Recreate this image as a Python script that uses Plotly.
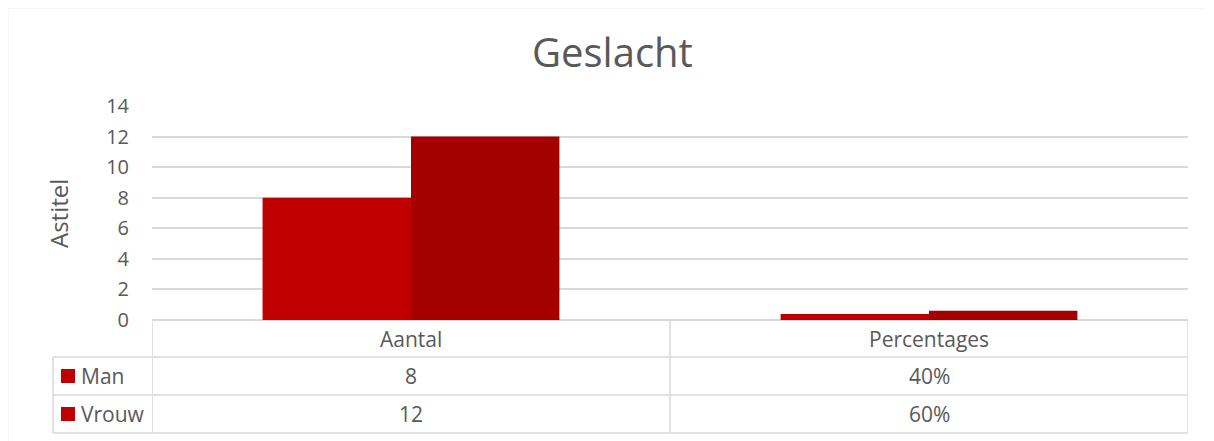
import plotly.graph_objects as go

categories = ["Aantal", "Percentages"]
series_names = ["Man", "Vrouw"]
man_values = [8, 0.4]
vrouw_values = [12, 0.6]
man_labels = ["8", "40%"]
vrouw_labels = ["12", "60%"]
y_ticks = [0, 2, 4, 6, 8, 10, 12, 14]
title_text = "Geslacht"
y_title = "Astitel"

W, H = 1214, 441
OFF = 8  # default page body margin
FONT = "Open Sans"
TXT = "#595959"
GRID = "#D9D9D9"
colors = ["#C00000", "#A50000"]
key_colors = ["#C00000", "#C00000"]

def py(px):
    return 1 - (px - OFF) / H

def pxx(px):
    return (px - OFF) / W

x_idx = list(range(len(categories)))

fig = go.Figure()
for name, vals, col in zip(series_names, [man_values, vrouw_values], colors):
    fig.add_trace(go.Bar(x=x_idx, y=vals, name=name, marker=dict(color=col, line=dict(width=0)),
                         showlegend=False, hoverinfo="skip"))

shapes = []
line = dict(color=GRID, width=1.5)
# chart border
shapes.append(dict(type="rect", xref="paper", yref="paper", x0=pxx(7.5), x1=pxx(W + 30),
                    y0=py(H + 30), y1=py(7.5), line=dict(color=GRID, width=1.5), fillcolor="rgba(0,0,0,0)"))
# table horizontal lines
row_tops = [357, 395, 433]
for ry in row_tops:
    shapes.append(dict(type="line", xref="paper", yref="paper", x0=pxx(53), x1=pxx(1188),
                       y0=py(ry), y1=py(ry), line=line))
# vertical lines at category boundaries
bounds = [i - 0.5 for i in x_idx] + [x_idx[-1] + 0.5]
for b in bounds:
    shapes.append(dict(type="line", xref="x", yref="paper", x0=b, x1=b,
                       y0=py(320), y1=py(433), line=line))
# legend column left edge
shapes.append(dict(type="line", xref="paper", yref="paper", x0=pxx(53), x1=pxx(53),
                   y0=py(357), y1=py(433), line=line))

annotations = []
TFS = 21
for i, c in zip(x_idx, categories):
    annotations.append(dict(x=i, y=py(338.5), xref="x", yref="paper", text=c, showarrow=False,
                            font=dict(family=FONT, size=TFS, color=TXT), xanchor="center", yanchor="middle"))
row_centers = [376, 414]
for rc, name, labels, kc in zip(row_centers, series_names, [man_labels, vrouw_labels], key_colors):
    for i, lab in zip(x_idx, labels):
        annotations.append(dict(x=i, y=py(rc), xref="x", yref="paper", text=lab, showarrow=False,
                                font=dict(family=FONT, size=TFS, color=TXT), xanchor="center", yanchor="middle"))
    annotations.append(dict(x=pxx(79), y=py(rc), xref="paper", yref="paper", text=name, showarrow=False,
                            font=dict(family=FONT, size=TFS, color=TXT), xanchor="left", yanchor="middle"))
    shapes.append(dict(type="rect", xref="paper", yref="paper", x0=pxx(61), x1=pxx(75),
                       y0=py(rc + 7), y1=py(rc - 7), line=dict(width=0), fillcolor=kc))

annotations.append(dict(x=pxx(612), y=py(52), xref="paper", yref="paper", text=title_text, showarrow=False,
                        font=dict(family=FONT, size=40, color=TXT), xanchor="center", yanchor="middle"))
annotations.append(dict(x=pxx(58), y=py(213), xref="paper", yref="paper", text=y_title, showarrow=False,
                        textangle=-90, font=dict(family=FONT, size=24, color=TXT),
                        xanchor="center", yanchor="middle"))

fig.update_layout(
    width=W, height=H,
    margin=dict(l=0, r=0, t=0, b=0, pad=0, autoexpand=False),
    paper_bgcolor="white", plot_bgcolor="white",
    barmode="group", bargap=0.427, bargroupgap=0,
    shapes=shapes, annotations=annotations,
    xaxis=dict(domain=[pxx(152), pxx(1188)], range=[-0.5, len(categories) - 0.5], automargin=False,
               showticklabels=False, showgrid=False, zeroline=False, showline=False, fixedrange=True),
    yaxis=dict(domain=[py(320), py(106)], range=[0, 14], tickvals=y_ticks, automargin=False,
               showgrid=True, gridcolor=GRID, gridwidth=1.5, zeroline=True, zerolinecolor=GRID,
               zerolinewidth=1.5, showline=False, ticks="", ticklabelstandoff=22,
               tickfont=dict(family=FONT, size=20, color=TXT), fixedrange=True),
)

fig.write_html("out.html")
